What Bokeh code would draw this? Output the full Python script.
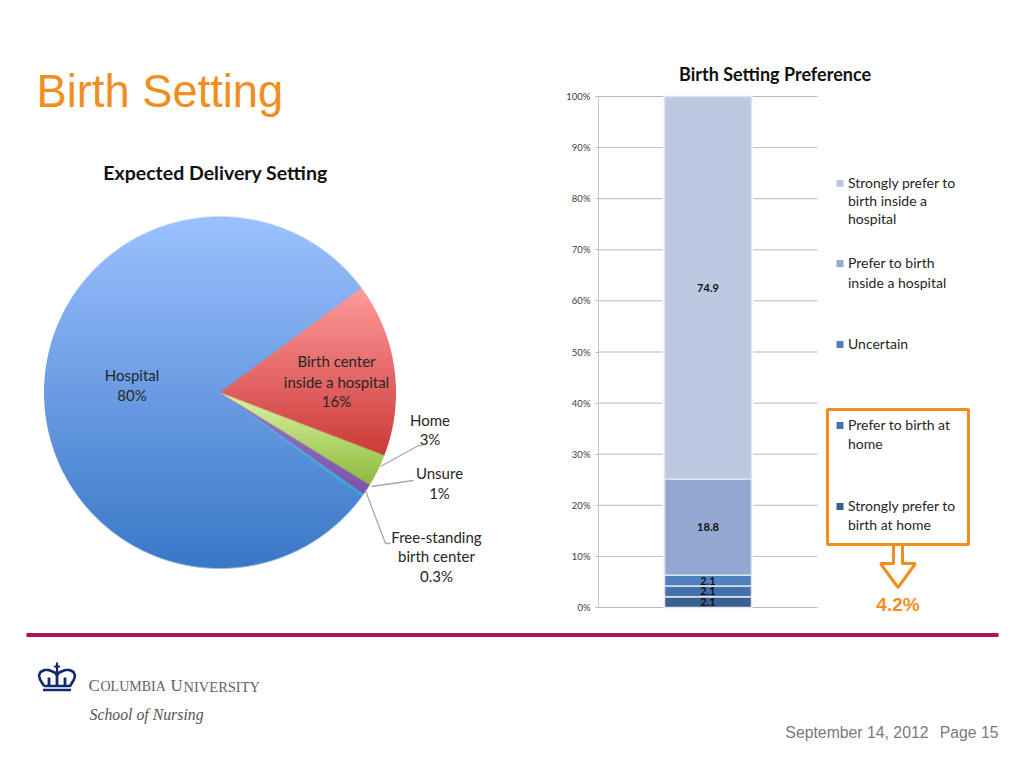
import numpy as np
from bokeh.plotting import figure
from bokeh.layouts import column, row
from bokeh.models import (Range1d, Label, BoxAnnotation,
                          LinearAxis, FixedTicker, PrintfTickFormatter)
from bokeh.core.properties import value
from bokeh.embed import file_html
from bokeh.resources import INLINE

# ---------- data ----------
pie_labels = ["Birth center inside a hospital", "Home", "Unsure", "Free-standing birth center", "Hospital"]
pie_values = [16, 3, 1, 0.3, 80]
pie_top = ["#ff9c9c", "#dcf6a6", "#9a78c8", "#5fc4e6", "#9cc1ff"]
pie_bottom = ["#cc3a38", "#8dbb3c", "#7d52ac", "#3aa6d0", "#3a78c8"]

bar_series = ["Strongly prefer to birth at home", "Prefer to birth at home", "Uncertain",
              "Prefer to birth inside a hospital", "Strongly prefer to birth inside a hospital"]
bar_values = [2.1, 2.1, 2.1, 18.8, 74.9]
bar_colors = ["#3a6090", "#4472a8", "#4f81bd", "#94a9d1", "#bbc9e2"]
bar_position = [0]
bar_ticks = list(range(0, 101, 10))

ORANGE = "#f28e1e"
LATO = value("Lato")

# ---------- left panel: page pixels ----------
L_W, TOP_H = 540, 625
left = figure(width=L_W, height=TOP_H, x_range=Range1d(0, L_W), y_range=Range1d(0, TOP_H),
              output_backend="svg", toolbar_location=None, min_border=0,
              x_axis_type=None, y_axis_type=None, outline_line_color=None)
Y = lambda py: TOP_H - py

CX, CY, R, START = 219.5, 392, 176, 36.5
vals = np.array(pie_values, dtype=float)
spans = vals / vals.sum() * 360.0
ends = START - np.concatenate([[0], np.cumsum(spans)[:-1]])
starts = ends - spans
def hexrgb(h):
    return np.array([int(h[i:i + 2], 16) for i in (1, 3, 5)], float)
for a0, a1, t, b in zip(starts, ends, pie_top, pie_bottom):
    mid = (hexrgb(t) + hexrgb(b)) / 2
    left.wedge(x=[CX], y=[Y(CY)], radius=R - 1, start_angle=np.radians(a0), end_angle=np.radians(a1),
               fill_color="#%02x%02x%02x" % tuple(int(v) for v in mid), line_color=None)

# gradient shading of the wedges, computed from the same values
SS = 3
size = 2 * R + 2
n = size * SS
yy, xx = np.mgrid[0:n, 0:n]
dx = (xx + .5) / SS - size / 2
dy = size / 2 - (yy + .5) / SS     # up positive, row 0 at top of picture
rad = np.hypot(dx, dy)
ang = np.degrees(np.arctan2(dy, dx))
rgb = np.zeros((n, n, 4), float)
for a0, a1, t, b in zip(starts, ends, pie_top, pie_bottom):
    d = (ang - a0) % 360
    m = (d <= (a1 - a0)) & (rad <= R)
    ys = np.where(m.any(axis=1))[0]
    f = np.clip((yy[m] - ys.min()) / max(1, ys.max() - ys.min()), 0, 1)[:, None]
    c = hexrgb(t) * (1 - f) + hexrgb(b) * f
    rgb[m, :3] = c
    rgb[m, 3] = 255
# premultiplied box filter down to 1x
pm = rgb.copy()
pm[..., :3] *= rgb[..., 3:] / 255
pm = pm.reshape(size, SS, size, SS, 4).mean(axis=(1, 3))
al = pm[..., 3:]
out = np.where(al > 0, pm[..., :3] * 255 / np.maximum(al, 1e-6), 0)
img = np.dstack([np.clip(out, 0, 255), al]).astype(np.uint8)[::-1]
rgba = np.zeros((size, size), dtype=np.uint32)
rgba.view(np.uint8).reshape(size, size, 4)[:] = img
left.image_rgba(image=[rgba], x=CX - size / 2, y=Y(CY) - size / 2, dw=size, dh=size)

# leader lines
for xs, ys in [([380, 418, 422], [466, 445, 445]),
               ([371, 413], [486, 480]),
               ([365, 385, 390], [490, 543, 543])]:
    left.line(xs, [Y(v) for v in ys], line_color="#a8a8a8", line_width=1.3)

def ltext(x, py, s, size, color="#262626", align="center", font=LATO, style="normal"):
    left.text([x], [Y(py)], text=[s], text_font=font, text_font_size=size, text_color=color,
              text_align=align, text_baseline="middle", text_font_style=style)

ltext(36, 91, "Birth Setting", "45.3px", ORANGE, "left", value("Liberation Sans"))
ltext(215, 172, "Expected Delivery Setting", "19.5px", "#111111", style="bold")
for x, py, s in [(131.5, 374.5, "Hospital"), (131.5, 394.5, "80%"),
                 (336, 360.5, "Birth center"), (336, 381.5, "inside a hospital"), (336, 400.5, "16%"),
                 (429.5, 419.5, "Home"), (429.5, 438.5, "3%"),
                 (439, 472.5, "Unsure"), (439, 492.5, "1%"),
                 (436, 536.5, "Free-standing"), (436, 555.5, "birth center"), (436, 575.5, "0.3%")]:
    ltext(x, py, s, "15px")

# ---------- right panel: stacked bar ----------
R_X0 = 540
R_W = 1016 - R_X0
PX0, PX100 = 607, 96            # page rows of 0% and 100%
FRAME_L, PLOT_R = 598, 817      # page columns of the plotted area
per_pct = (PX0 - PX100) / 100
per_x = PLOT_R - FRAME_L
right = figure(width=R_W, height=TOP_H, x_range=Range1d(-0.5, 0.5 + (R_X0 + R_W - PLOT_R) / per_x),
               y_range=Range1d(-(TOP_H - PX0) / per_pct, 100 + PX100 / per_pct),
               output_backend="svg", toolbar_location=None,
               min_border_left=FRAME_L - R_X0, min_border_right=0, min_border_top=0, min_border_bottom=0,
               outline_line_color=None, x_axis_type=None, y_axis_type=None)
yax = LinearAxis(ticker=FixedTicker(ticks=bar_ticks), formatter=PrintfTickFormatter(format="%d%%"),
                 bounds=(0, 100))
yax.axis_line_color = "#c4c4c4"
yax.major_tick_line_color = "#b8b8b8"
yax.major_tick_in = 0
yax.major_tick_out = 3
yax.minor_tick_line_color = None
yax.major_label_text_font = "Lato"
yax.major_label_text_font_size = "9.5px"
yax.major_label_text_color = "#404040"
yax.major_label_standoff = 5
right.add_layout(yax, "left")

# gridlines stop at the plot's own right edge, short of the legend
right.segment(x0=[-0.5] * len(bar_ticks), x1=[0.5] * len(bar_ticks), y0=bar_ticks, y1=bar_ticks,
              line_color="#b9b9b9", line_width=1)

bottoms = np.concatenate([[0], np.cumsum(bar_values)[:-1]])
right.vbar(x=bar_position, bottom=[0], top=[100], width=0.415, fill_color="white", line_color=None)
for s, v, b0, c in zip(bar_series, bar_values, bottoms, bar_colors):
    right.vbar(x=bar_position, bottom=[b0], top=[min(b0 + v, 100)], width=0.397, fill_color=c,
               line_color="#dde5f3", line_width=1.5)
right.text(x=bar_position * 5, y=list(bottoms + np.array(bar_values) / 2), text=[str(v) for v in bar_values],
           text_font=LATO, text_font_size="11px", text_font_style="bold", text_color="#111111",
           text_align="center", text_baseline="middle")

right.extra_x_ranges = {"px": Range1d(FRAME_L, R_X0 + R_W)}
right.extra_y_ranges = {"px": Range1d(TOP_H, 0)}

def rlabel(x, py, s, size, color="#262626", align="left", font="Lato", style="normal"):
    right.add_layout(Label(x=x, y=py, text=s, x_range_name="px", y_range_name="px",
                           text_font=font, text_font_size=size, text_color=color, text_align=align,
                           text_baseline="middle", text_font_style=style))

def rbox(x0, x1, y0, y1, **kw):
    right.add_layout(BoxAnnotation(left=x0, right=x1, top=y0, bottom=y1, line_alpha=1,
                                   x_range_name="px", y_range_name="px", **kw))

rlabel(774.5, 73.5, "Birth Setting Preference", "18px", "#111111", "center", style="bold")

legend_rows = [("#bbc9e2", 183, [(183, "Strongly prefer to"), (201, "birth inside a"), (219, "hospital")]),
               ("#94a9d1", 263, [(263, "Prefer to birth"), (283, "inside a hospital")]),
               ("#4f81bd", 344, [(344, "Uncertain")]),
               ("#4472a8", 425, [(425, "Prefer to birth at"), (444, "home")]),
               ("#3a6090", 506, [(506, "Strongly prefer to"), (525, "birth at home")])]
rbox(827, 968, 409, 544, fill_alpha=0, line_color=ORANGE, line_width=3)
for col, py, lines in legend_rows:
    rbox(836, 843, py - 3.5, py + 3.5, fill_color=col, fill_alpha=1, line_color=None)
    for ly, s in lines:
        rlabel(847.5, ly - 1, s, "14px")

right.patch(x=[893, 893, 880, 897.5, 915, 902, 902], y=[544, 563, 563, 587, 563, 563, 544],
            fill_color="white", line_color=ORANGE, line_width=3, level="overlay",
            x_range_name="px", y_range_name="px")
rlabel(897.5, 604, "4.2%", "19px", ORANGE, "center", "Liberation Sans", "bold")

# ---------- footer ----------
F_W, F_H = 1016, 135
foot = figure(width=F_W, height=F_H, x_range=Range1d(0, F_W), y_range=Range1d(TOP_H + F_H, TOP_H),
              output_backend="svg", toolbar_location=None, min_border=0,
              x_axis_type=None, y_axis_type=None, outline_line_color=None)
foot.line([26, 998], [634.5, 634.5], line_color="#b0125f", line_width=4)

NAVY = "#12296f"
foot.line([42.5, 70.5], [689.5, 689.5], line_color=NAVY, line_width=2.6)
foot.line([56.5, 56.5], [662, 674], line_color=NAVY, line_width=2.2)
foot.line([53.5, 59.5], [666, 666], line_color=NAVY, line_width=2)
foot.line([43.5, 39.5, 38.5, 40, 44, 48, 52, 55, 56.5, 58, 61, 65, 69, 73, 74.5, 73.5, 69.5, 43.5],
          [685.5, 679, 675, 671.5, 669.5, 669.5, 671, 672.5, 675, 672.5, 671, 669.5, 669.5, 671.5, 675, 679, 685.5, 685.5],
          line_color=NAVY, line_width=2.6)
foot.multi_line([[48.5, 48.5], [56.5, 56.5], [64.5, 64.5]], [[677, 685], [675, 685], [677, 685]],
                line_color=NAVY, line_width=2.8)

def ftext(x, py, s, size, color="#636363", align="left", font=value("Liberation Serif"), style="normal"):
    foot.text([x], [py], text=[s], text_font=font, text_font_size=size, text_color=color,
              text_align=align, text_baseline="middle", text_font_style=style)

ftext(88, 685, "C", "17px")
ftext(100, 686, "OLUMBIA", "14px")
ftext(170, 685, "U", "17px")
ftext(183, 686, "NIVERSITY", "14.5px")
ftext(89, 714, "School of Nursing", "15.8px", "#555555", style="italic")
ftext(928, 732, "September 14, 2012", "15.8px", "#7a7a7a", "right", value("Liberation Sans"))
ftext(998, 732, "Page 15", "15.8px", "#7a7a7a", "right", value("Liberation Sans"))

page = column(row(left, right, spacing=0), foot, spacing=0)
open("out.html", "w").write(file_html(page, INLINE))
